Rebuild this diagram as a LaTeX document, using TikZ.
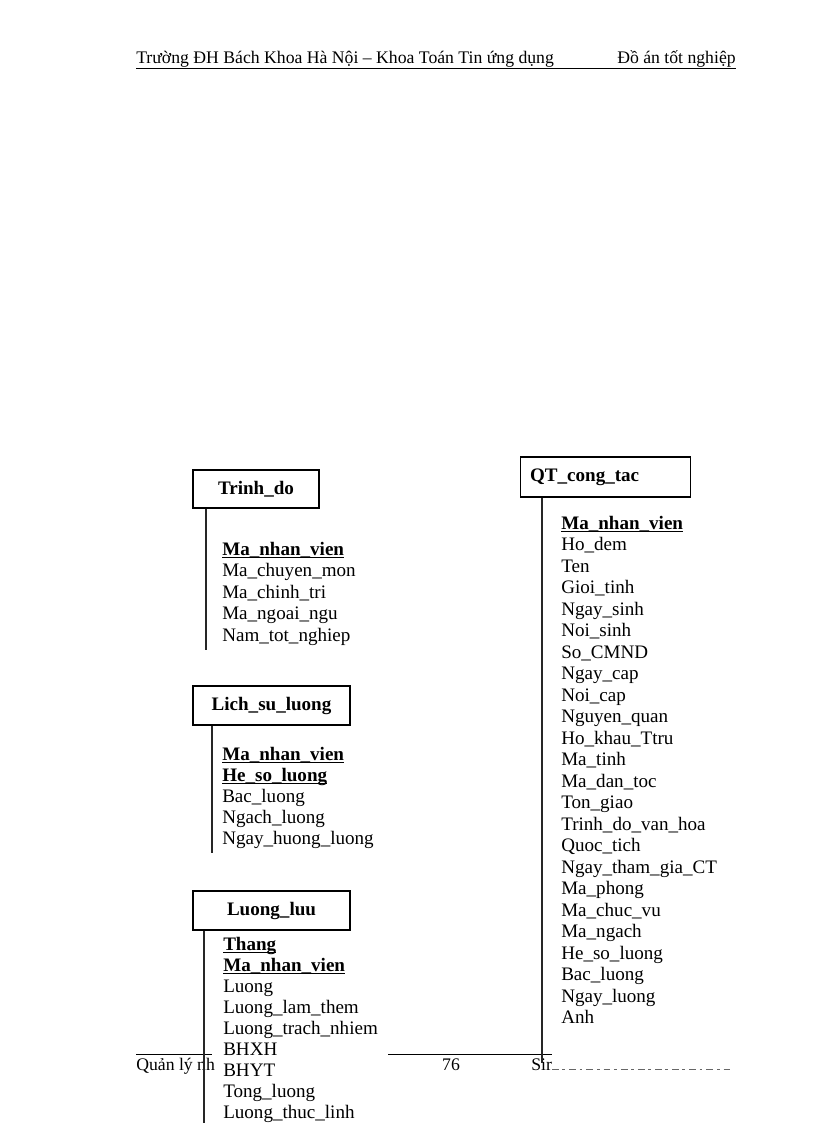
\documentclass[tikz,border=0pt]{standalone}
\usepackage{fontspec}
\setmainfont{Liberation Serif}
\newcommand{\pk}[1]{\setbox0\hbox{\textbf{#1}}\rlap{\rule[-2.4pt]{\wd0}{0.9pt}}\box0}
\tikzset{
  tbl/.style={draw, line width=0.75pt, inner sep=0pt, font=\fontsize{13.9}{15.7}\selectfont\bfseries},
  fld/.style={anchor=base west, inner sep=0pt, font=\fontsize{13.9}{15.7}\selectfont},
  pagetext/.style={anchor=base west, inner sep=0pt, font=\fontsize{12.9}{15}\selectfont},
  stem/.style={line width=0.75pt, draw=black!85},
}
\begin{document}
\begin{tikzpicture}[x=0.7292pt, y=-0.7292pt]
    \useasboundingbox (0,0) rectangle (816,1123);
    % header and footer of the page
    \node[pagetext] (hd-l) at (136,64) {Trường ĐH Bách Khoa Hà Nội – Khoa Toán Tin ứng dụng};
    \node[pagetext] (hd-r) at (617,64) {Đồ án tốt nghiệp};
    \draw[line width=0.6pt] (hd-l.south west) -- (hd-l.south west -| hd-r.south east);
    \node[pagetext] (ft-l) at (136,1070) {Quản lý nh};
    \node[pagetext, anchor=base] (ft-n) at (451,1070) {76};
    \node[pagetext] (ft-r) at (531,1070) {Sir};
    \coordinate (ft-a) at (212,1054);
    \coordinate (ft-b) at (388,1054);
    \coordinate (ft-c) at (552,1054);
    \draw[line width=0.6pt] (ft-l.north west |- ft-a) -- (ft-a);
    \draw[line width=0.6pt] (ft-b) -- (ft-c);
    \draw[line width=0.7pt, black!60, dash pattern=on 5pt off 2.5pt on 2pt off 3pt] (ft-r.base east) ++(0,-1) -- (732,1069);
    % tables
    \node[tbl, minimum width=126*0.7292pt, minimum height=38*0.7292pt] (td) at (256,489) {Trinh\_do};
    \node[tbl, minimum width=157*0.7292pt, minimum height=39*0.7292pt] (ls) at (271.5,705.5) {Lich\_su\_luong};
    \node[tbl, minimum width=157*0.7292pt, minimum height=39*0.7292pt] (ll) at (271.5,910.5) {Luong\_luu};
    \node[tbl, minimum height=40*0.7292pt, text width=110pt, inner xsep=7.3pt, align=left] (qt) at (605.5,477) {QT\_cong\_tac};
    \coordinate (td-end) at (206,650);
    \coordinate (ls-end) at (212,853);
    \coordinate (ll-end) at (204,1123);
    \coordinate (qt-end) at (542,1063);
    \begin{scope}[every path/.style={stem}]
        \path (td.south -| td-end) edge (td-end)
              (ls.south -| ls-end) edge (ls-end)
              (ll.south -| ll-end) edge (ll-end)
              (qt.south -| qt-end) edge (qt-end);
    \end{scope}
    % fields
    \foreach \f [count=\i from 0] in {{\pk{Ma\_nhan\_vien}}, Ma\_chuyen\_mon, Ma\_chinh\_tri, Ma\_ngoai\_ngu, Nam\_tot\_nghiep}
        \node[fld] (td-\i) at (222,555+21.5*\i) {\f};
    \foreach \f [count=\i from 0] in {{\pk{Ma\_nhan\_vien}}, {\pk{He\_so\_luong}}, Bac\_luong, Ngach\_luong, Ngay\_huong\_luong}
        \node[fld] (ls-\i) at (222,760+21.2*\i) {\f};
    \foreach \f [count=\i from 0] in {{\pk{Thang}}, {\pk{Ma\_nhan\_vien}}, Luong, Luong\_lam\_them, Luong\_trach\_nhiem, BHXH, BHYT, Tong\_luong, Luong\_thuc\_linh}
        \node[fld] (ll-\i) at (223,950+21.1*\i) {\f};
    \foreach \f [count=\i from 0] in {{\pk{Ma\_nhan\_vien}}, Ho\_dem, Ten, Gioi\_tinh, Ngay\_sinh, Noi\_sinh, So\_CMND, Ngay\_cap, Noi\_cap, Nguyen\_quan, Ho\_khau\_Ttru, Ma\_tinh, Ma\_dan\_toc, Ton\_giao, Trinh\_do\_van\_hoa, Quoc\_tich, Ngay\_tham\_gia\_CT, Ma\_phong, Ma\_chuc\_vu, Ma\_ngach, He\_so\_luong, Bac\_luong, Ngay\_luong, Anh}
        \node[fld] (qt-\i) at (561,529+21.52*\i) {\f};
\end{tikzpicture}
\end{document}
